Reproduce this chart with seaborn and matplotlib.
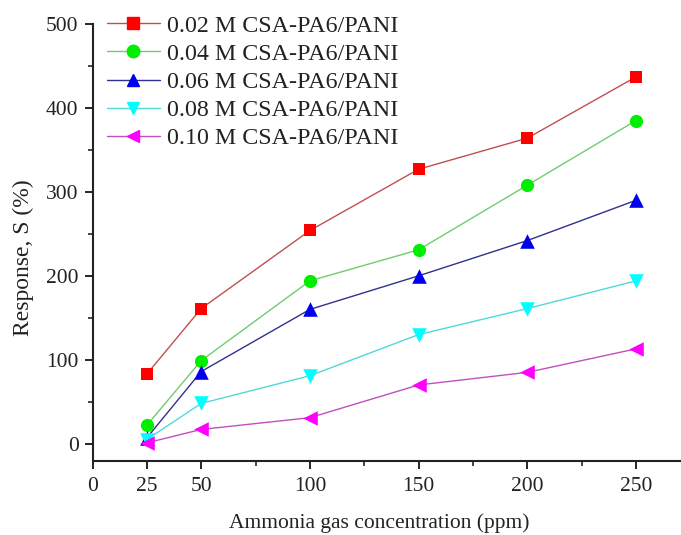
import numpy as np
import pandas as pd
import matplotlib
matplotlib.use("Agg")
import matplotlib.pyplot as plt
from matplotlib.lines import Line2D
from matplotlib.ticker import FixedLocator
import seaborn as sns

# ---- data ----
concentration = [25, 50, 100, 150, 200, 250]
series_names = ["0.02 M CSA-PA6/PANI", "0.04 M CSA-PA6/PANI", "0.06 M CSA-PA6/PANI",
                "0.08 M CSA-PA6/PANI", "0.10 M CSA-PA6/PANI"]
resp_002 = [83, 161, 254, 327, 364, 437]
resp_004 = [22, 99, 194, 231, 308, 385]
resp_006 = [7, 86, 160, 200, 242, 290]
resp_008 = [5, 48, 81, 130, 161, 194]
resp_010 = [1, 17, 31, 70, 85, 113]
x_ticks = [0, 25, 50, 100, 150, 200, 250]
x_minor = [75, 125, 175, 225]
y_ticks = [0, 100, 200, 300, 400, 500]
y_minor = [50, 150, 250, 350, 450]

values = [resp_002, resp_004, resp_006, resp_008, resp_010]
marker_colors = ["#ff0000", "#00ee00", "#0000ee", "#00ffff", "#ff00ff"]
line_colors = ["#c05050", "#70cc70", "#303090", "#50d8d8", "#c050c0"]
markers = ["s", "o", "^", "v", "<"]
msizes = [80, 90, 110, 110, 110]

df = pd.DataFrame({
    "x": np.tile(concentration, len(series_names)),
    "y": np.concatenate(values),
    "series": np.repeat(series_names, len(concentration)),
})

sns.set_style("ticks")
plt.rcParams["font.family"] = ["Liberation Serif", "DejaVu Serif"]

fig = plt.figure(figsize=(6.81, 5.35), dpi=100)
ax = fig.add_axes([92.5 / 681, (535 - 460.5) / 535, (679.5 - 92.5) / 681, 436.5 / 535])

sns.lineplot(data=df, x="x", y="y", hue="series", palette=dict(zip(series_names, line_colors)),
             linewidth=1.0, legend=False, ax=ax, zorder=2)
for name, mk, mc, ms in zip(series_names, markers, marker_colors, msizes):
    sub = df[df["series"] == name]
    sns.scatterplot(data=sub, x="x", y="y", marker=mk, color=mc, s=ms, linewidth=0,
                    legend=False, ax=ax, zorder=3)

ax.set_xlim(0, 270)
ax.set_ylim(-20, 500)
ax.set_xticks(x_ticks)
ax.set_yticks(y_ticks)
ax.xaxis.set_minor_locator(FixedLocator(x_minor))
ax.yaxis.set_minor_locator(FixedLocator(y_minor))
ax.tick_params(axis="both", which="major", length=6, width=1.2, labelsize=15.5, color="black",
               labelcolor="#222222", direction="out")
ax.tick_params(axis="both", which="minor", length=3.5, width=1.2, direction="out")
ax.tick_params(axis="x", pad=6)
ax.tick_params(axis="y", pad=4)
for s in ["top", "right"]:
    ax.spines[s].set_visible(False)
for s in ["left", "bottom"]:
    ax.spines[s].set_linewidth(1.5)
    ax.spines[s].set_color("#222222")
ax.spines["left"].set_bounds(-20, 500)

ax.set_xlabel("Ammonia gas concentration (ppm)", fontsize=15.5, color="#222222")
ax.set_ylabel("Response, S (%)", fontsize=17, color="#222222")
ax.xaxis.set_label_coords(0.488, -0.122)
ax.xaxis.label.set_va("top")
ax.yaxis.set_label_coords(-0.1, 0.464)

handles = [Line2D([0], [0], color=lc, lw=1.0, marker=mk, markerfacecolor=mc, markeredgecolor=mc,
                  markersize=9 if mk != "s" else 8)
           for lc, mc, mk in zip(line_colors, marker_colors, markers)]
leg = ax.legend(handles, series_names, loc="upper left", bbox_to_anchor=(107 / 681, 1 - 15 / 535),
                bbox_transform=fig.transFigure, frameon=False, fontsize=17.3, handlelength=2.2,
                handletextpad=0.28, labelspacing=0.26, borderpad=0, borderaxespad=0)
for t in leg.get_texts():
    t.set_color("#222222")

fig.savefig("out.png", dpi=100)
